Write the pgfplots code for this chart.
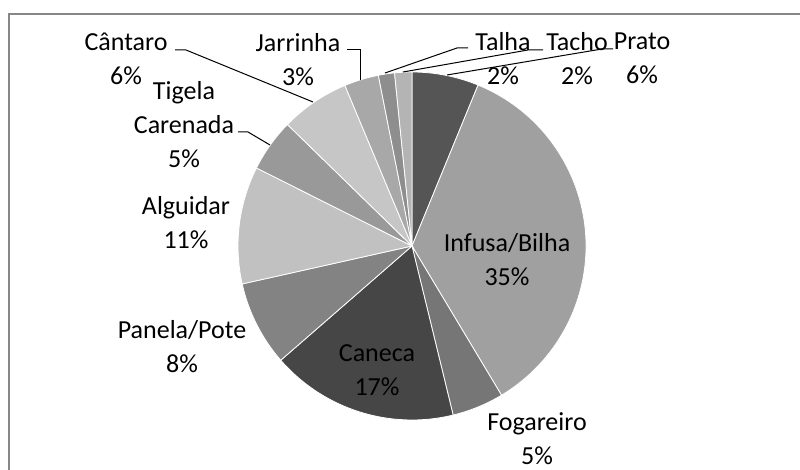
\documentclass[border=0pt]{standalone}
\usepackage{pgfplots}
\usepackage{pgfplotstable}
\pgfplotsset{compat=1.18}
\usepackage{fontspec}
\setmainfont{Carlito}

\definecolor{s0}{HTML}{555555}
\definecolor{s1}{HTML}{A0A0A0}
\definecolor{s2}{HTML}{767676}
\definecolor{s3}{HTML}{464646}
\definecolor{s4}{HTML}{838383}
\definecolor{s5}{HTML}{C1C1C1}
\definecolor{s6}{HTML}{999999}
\definecolor{s7}{HTML}{C6C6C6}
\definecolor{s8}{HTML}{A8A8A8}
\definecolor{s9}{HTML}{8E8E8E}
\definecolor{s10}{HTML}{B4B4B4}
\definecolor{framegray}{HTML}{878787}

\pgfplotstableread[col sep=comma]{
name,value
Prato,6.2
Infusa/Bilha,35.2
Fogareiro,4.8
Caneca,17.4
Panela/Pote,7.9
Alguidar,10.9
Tigela Carenada,4.9
Cantaro,6.4
Jarrinha,3.2
Talha,1.5
Tacho,1.6
}\piedata

\begin{document}
\begin{tikzpicture}[x=0.75pt,y=0.75pt]
\useasboundingbox (0,0) rectangle (800,470);
% cumulative angles from the data
\gdef\cum{0}
\pgfplotsforeachungrouped \i in {0,...,10}{%
  \pgfplotstablegetelem{\i}{value}\of\piedata
  \pgfmathsetmacro\sa{90-3.6*\cum}%
  \pgfmathsetmacro\newcum{\cum+\pgfplotsretval}%
  \pgfmathsetmacro\ea{90-3.6*\newcum}%
  \expandafter\xdef\csname sa\i\endcsname{\sa}%
  \expandafter\xdef\csname ea\i\endcsname{\ea}%
  \xdef\cum{\newcum}%
}
% chart frame
\draw[framegray, line width=1.5pt] (820,-20) -- (9,-20) -- (9,456) -- (820,456);

\begin{axis}[hide axis, clip=false, at={(309pt,168pt)}, anchor=origin,
  x=130.5pt, y=130.5pt, xmin=-1, xmax=1, ymin=-1, ymax=1]
\pgfplotsinvokeforeach{0,...,10}{
  \fill[s#1, draw=white, line width=0.6pt] (axis cs:0,0) -- ++(\csname sa#1\endcsname:130.5pt)
    arc[start angle=\csname sa#1\endcsname, end angle=\csname ea#1\endcsname, radius=130.5pt] -- cycle;
}
\end{axis}

\tikzset{lab/.style={font=\fontsize{19.5}{25.5}\selectfont, align=center, inner sep=0pt, text=black}}
\node[lab] at (642,411.5) {Prato\\6\%};
\node[lab] at (577,411.5) {Tacho\\2\%};
\node[lab] at (503,411.5) {Talha\\2\%};
\node[lab] at (298,410) {Jarrinha\\3\%};
\node[lab] at (126,411) {Cântaro\\6\%};
\node[lab] at (184,345.5) {Tigela\\Carenada\\5\%};
\node[lab] at (186,247.5) {Alguidar\\11\%};
\node[lab] at (182,123) {Panela/Pote\\8\%};
\node[lab] at (377,100) {Caneca\\17\%};
\node[lab] at (507,210) {Infusa/Bilha\\35\%};
\node[lab] at (537,31.5) {Fogareiro\\5\%};

\begin{scope}[line width=0.75pt, black]
\draw (175,420) -- (186,420) -- (313,368);
\draw (347,420) -- (360,420) -- (360,390);
\draw (238,338) -- (248,338) -- (270,325);
\draw (385,397) -- (457,422) -- (468,422);
\draw (403,398) -- (528,420) -- (543,420);
\draw (447,395) -- (602,421) -- (613,421);
\end{scope}
\end{tikzpicture}
\end{document}
